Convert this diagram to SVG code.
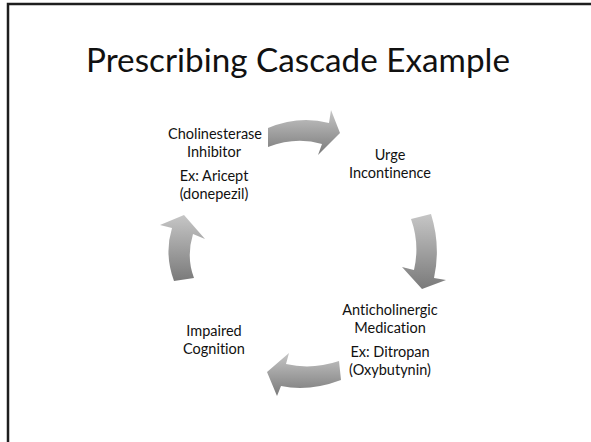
<svg xmlns="http://www.w3.org/2000/svg" width="591" height="442" viewBox="0 0 591 442">
  <defs>
    <linearGradient id="g" x1="0" y1="0" x2="0" y2="1">
      <stop offset="0" stop-color="#c6c6c6"/>
      <stop offset="1" stop-color="#7a7a7a"/>
    </linearGradient>
  </defs>
  <style>
    .t { font-family: Lato, "Open Sans", "Liberation Sans", sans-serif; font-size: 14.5px; fill: #111; text-anchor: middle; font-variant-ligatures: none; font-feature-settings: "liga" 0, "dlig" 0; }
    .title { font-family: Lato, "Open Sans", "Liberation Sans", sans-serif; font-size: 32px; fill: #111; text-anchor: middle; font-variant-ligatures: none; }
    .arr { fill: url(#g); stroke: none; }
  </style>
  <rect x="0" y="0" width="591" height="442" fill="#fff"/>
  <path d="M8,442 V4 H591" fill="none" stroke="#1e1e1e" stroke-width="2.5"/>
  <text class="title" x="298" y="72" textLength="424" lengthAdjust="spacingAndGlyphs">Prescribing Cascade Example</text>

  <g id="node-cholinesterase">
    <text class="t" x="215" y="139">Cholinesterase</text>
    <text class="t" x="214" y="157">Inhibitor</text>
    <text class="t" x="214" y="181">Ex: Aricept</text>
    <text class="t" x="214" y="199">(donepezil)</text>
  </g>
  <g id="node-urge">
    <text class="t" x="390" y="160">Urge</text>
    <text class="t" x="390" y="178">Incontinence</text>
  </g>
  <g id="node-anticholinergic">
    <text class="t" x="390" y="315">Anticholinergic</text>
    <text class="t" x="390" y="333">Medication</text>
    <text class="t" x="390" y="357">Ex: Ditropan</text>
    <text class="t" x="390" y="375">(Oxybutynin)</text>
  </g>
  <g id="node-impaired">
    <text class="t" x="214" y="336">Impaired</text>
    <text class="t" x="214" y="354">Cognition</text>
  </g>

  <g id="connectors">
    <path class="arr" d="M268,128 Q299,115 329,123 L331,110 L340,133 L318,155 L322,144 Q296,136 268,147 Z"/>
    <path class="arr" d="M431,214 Q441,246 434,278 L446,280 L422,289 L402,267 L414,270 Q420,244 411,219 Z"/>
    <path class="arr" d="M341,380 Q309,392 281,386 L277,396 L267,372 L289,353 L286,364 Q312,370 339,361 Z"/>
    <path class="arr" d="M174,281 Q164,254 172,228 L160,225 L184,215 L205,239 L193,234 Q186,257 194,278 Z"/>
  </g>
</svg>
